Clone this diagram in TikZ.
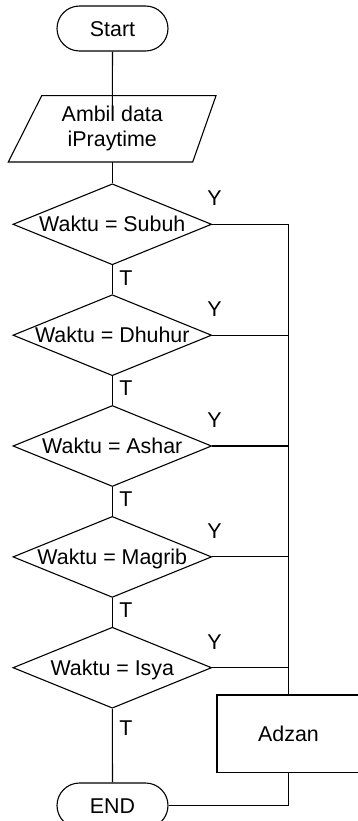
\documentclass[tikz,border=0pt]{standalone}
\usepackage{fontspec}
\setmainfont{Liberation Sans}
\usetikzlibrary{shapes.geometric}
\begin{document}
\begin{tikzpicture}[x=1pt,y=-1pt,line width=1.1pt,
  txt/.style={font=\fontsize{21.4}{25}\selectfont,inner sep=0pt,text height=15.3pt,text depth=0pt},
  term/.style={draw,rectangle,rounded corners=22.5pt,minimum width=111pt,minimum height=45pt,
    font=\fontsize{21.4}{25}\selectfont,text height=15.3pt,text depth=0pt},
  dec/.style={draw,diamond,inner sep=0pt,minimum width=198.7pt,minimum height=81pt},
  procbox/.style={draw,rectangle,inner sep=0pt,minimum width=170pt,minimum height=77.3pt}]
\useasboundingbox (0,0) rectangle (357,821);

% terminators
\node[term] (start) at (112.5,28.5) {Start};
\node[term] (finish) at (112.5,805.5) {END};

% input parallelogram
\coordinate (inBot) at (112.3,162);
\draw (41.7,95.7) -- (216,95.7) -- (192.7,162) -- (8.3,162) -- cycle;
\node[font=\fontsize{21.4}{25}\selectfont,align=center,inner sep=0pt] (input) at (112.3,128) {Ambil data\\iPraytime};
\coordinate (feedEnd) at (112.3,106);

% decisions
\foreach \i/\y/\t in {1/224.3/Subuh,2/335.2/Dhuhur,3/446/Ashar,4/556.9/Magrib,5/667.7/Isya}{
  \node[dec] (d\i) at (112.3,\y) {};
  \node[txt] (t\i) at (d\i) {Waktu = \t};
  \node[txt] (y\i) at (214.5,\y-26) {Y};
}

% process box (runs past the right edge of the page)
\node[procbox] (adzanbox) at (302,733.6) {};
\node[txt] (adzan) at (288.5,733.6) {Adzan};
\coordinate (bus) at (288.7,695);

% connectors
\draw (start.south) -- (feedEnd);
\draw (inBot) -- (d1.north);
\foreach \i/\j in {1/2,2/3,3/4,4/5}{
  \draw (d\i.south) -- (d\j.north);
  \node[txt] at ([yshift=-12pt]d\i.south -| 126,0) {T};
}
\node[txt] (tlast) at (126,728) {T};
\draw (d5.south) -- (finish.north);
\foreach \i in {1,...,5}{
  \draw (d\i.east) -- (d\i.east -| bus);
}
\draw (d1.east -| bus) -- (adzanbox.north -| bus);
\draw (adzanbox.south -| bus) |- (finish.east);
\end{tikzpicture}
\end{document}
